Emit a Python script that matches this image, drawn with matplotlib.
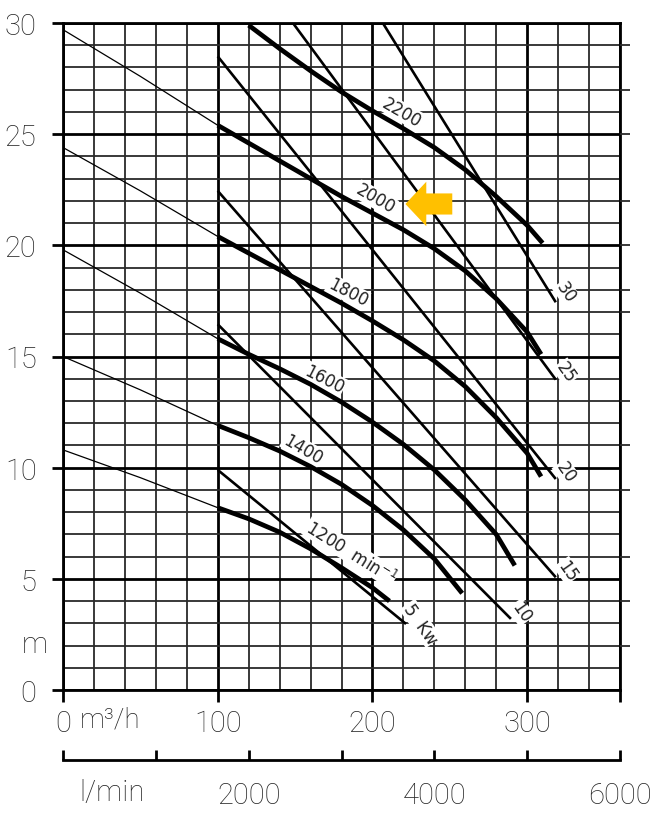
import matplotlib
matplotlib.use('Agg')
import matplotlib.pyplot as plt
import numpy as np

# pump curves: thin part from 0 to 100 m3/h, thick part from 100 m3/h on
speeds = ['2200', '2000', '1800', '1600', '1400', '1200']

q_low = [0, 50, 100]
h_low = {
    '2000': [29.7, 27.6, 25.4],
    '1800': [24.4, 22.45, 20.4],
    '1600': [19.8, 17.85, 15.8],
    '1400': [15.0, 13.5, 11.9],
    '1200': [10.8, 9.55, 8.2],
}

q_2200 = [120, 140, 160, 180, 200, 220, 240, 260, 280, 300, 310]
h_2200 = [29.9, 28.85, 27.85, 26.9, 26.05, 25.25, 24.4, 23.4, 22.2, 20.9, 20.1]
q_2000 = [100, 120, 140, 160, 180, 200, 220, 240, 260, 280, 300, 309]
h_2000 = [25.4, 24.6, 23.8, 23.0, 22.2, 21.45, 20.7, 19.85, 18.85, 17.6, 16.1, 15.1]
q_1800 = [100, 120, 140, 160, 180, 200, 220, 240, 260, 280, 300, 309]
h_1800 = [20.4, 19.65, 18.9, 18.15, 17.4, 16.6, 15.75, 14.8, 13.65, 12.25, 10.65, 9.6]
q_1600 = [100, 120, 140, 160, 180, 200, 220, 240, 260, 280, 292]
h_1600 = [15.8, 15.1, 14.45, 13.75, 12.95, 12.05, 11.05, 9.9, 8.55, 7.0, 5.6]
q_1400 = [100, 120, 140, 160, 180, 200, 220, 240, 258]
h_1400 = [11.9, 11.35, 10.75, 10.05, 9.25, 8.3, 7.2, 5.9, 4.35]
q_1200 = [100, 120, 140, 160, 180, 200, 211]
h_1200 = [8.2, 7.7, 7.1, 6.35, 5.5, 4.6, 4.0]

q_high = {'2200': q_2200, '2000': q_2000, '1800': q_1800,
          '1600': q_1600, '1400': q_1400, '1200': q_1200}
h_high = {'2200': h_2200, '2000': h_2000, '1800': h_1800,
          '1600': h_1600, '1400': h_1400, '1200': h_1200}

# curve labels
speed_text = ['2200', '2000', '1800', '1600', '1400', '1200  min$^{-1}$']
speed_lbl_q = [219, 202, 184, 169, 155, 186]
speed_lbl_h = [26.0, 22.1, 17.9, 14.0, 10.85, 6.2]
speed_lbl_rot = [-30, -30, -27, -27, -30, -32]

# power lines (kW), straight from start to end point
kw_text = ['5  Kw', '10', '15', '20', '25', '30']
kw_q0 = [100, 100, 100, 100, 148.6, 206.7]
kw_h0 = [9.9, 16.45, 22.45, 28.5, 30.0, 30.0]
kw_q1 = [221.7, 289.5, 318.5, 318.5, 318.5, 318.5]
kw_h1 = [2.97, 3.2, 5.07, 9.49, 13.96, 17.44]
kw_lbl_q = [231, 296, 326, 325, 325, 325]
kw_lbl_h = [3.0, 3.5, 5.37, 9.8, 14.3, 17.9]

# axes ticks
x_major = [0, 100, 200, 300, 360]
x_major_labels = ['0', '100', '200', '300', '']
y_major = [0, 5, 10, 15, 20, 25, 30]
y_right_ticks = [2, 4, 6, 9, 11, 13, 17, 18, 20, 22, 25, 27, 29]
lmin_ticks = [0, 1000, 2000, 3000, 4000, 5000, 6000]
lmin_labels = ['', '', '2000', '', '4000', '', '6000']

txt_col = '#262626'
axis_font = dict(family=['Roboto', 'DejaVu Sans'], weight='light')

W, H = 656, 820
fig = plt.figure(figsize=(W / 100, H / 100), dpi=100)
ax = fig.add_axes([63 / W, 1 - 691 / H, (620 - 63) / W, (691 - 24) / H])
ax.set_xlim(0, 360)
ax.set_ylim(0, 30)

# grid
ax.set_xticks(np.arange(0, 361, 20), minor=True)
ax.set_yticks(np.arange(0, 31, 1), minor=True)
ax.set_xticks(x_major)
ax.set_xticklabels(x_major_labels)
ax.set_yticks(y_major)
ax.set_yticklabels([str(v) for v in y_major])
ax.grid(which='minor', color='#2a2a2a', lw=1.3, zorder=0)
ax.grid(which='major', color='black', lw=2.0, zorder=0)
ax.tick_params(which='minor', length=0)
ax.tick_params(axis='x', which='major', length=8.5, width=2.0, pad=5,
               labelsize=21, labelcolor=txt_col)
ax.tick_params(axis='y', which='major', length=8, width=2.0, pad=11,
               labelsize=21, labelcolor=txt_col)
for lab in ax.get_xticklabels() + ax.get_yticklabels():
    lab.set(**axis_font)
for s in ax.spines.values():
    s.set_linewidth(2.0)

# short ticks sticking out on the right side
axr = ax.twinx()
axr.set_ylim(0, 30)
axr.set_yticks(y_right_ticks)
axr.set_yticklabels([])
axr.tick_params(axis='y', length=7, width=1.3, color='#2a2a2a')
for s in axr.spines.values():
    s.set_visible(False)

# pump curves
for sp in speeds:
    if sp in h_low:
        ax.plot(q_low, h_low[sp], color='black', lw=0.9, zorder=4)
    ax.plot(q_high[sp], h_high[sp], color='black', lw=3.4,
            solid_capstyle='butt', solid_joinstyle='round', zorder=4)

# power lines
for i in range(len(kw_text)):
    ax.plot([kw_q0[i], kw_q1[i]], [kw_h0[i], kw_h1[i]], color='black',
            lw=1.9, solid_capstyle='butt', zorder=4)
    ax.text(kw_lbl_q[i], kw_lbl_h[i], kw_text[i], rotation=-55,
            rotation_mode='anchor', ha='center', va='center', fontsize=12,
            color='#222222', zorder=3,
            bbox=dict(facecolor='white', edgecolor='none', pad=0.5))

for i in range(len(speed_text)):
    ax.text(speed_lbl_q[i], speed_lbl_h[i], speed_text[i],
            rotation=speed_lbl_rot[i], rotation_mode='anchor',
            ha='center', va='center', fontsize=12, color='#222222', zorder=3,
            bbox=dict(facecolor='white', edgecolor='none', pad=0.5))

# yellow arrow pointing at the 2000 curve
ax.arrow(251.6, 21.86, -30.3, 0, width=0.95, head_width=2.0, head_length=13.5,
         length_includes_head=True, color='#FFC000', lw=0, zorder=6)

fig.text(110 / W, 1 - 720 / H, 'm³/h', ha='center', va='center',
         fontsize=20, color=txt_col, **axis_font)
fig.text(35 / W, 1 - 645 / H, 'm', ha='center', va='center',
         fontsize=21, color=txt_col, **axis_font)

# l/min scale below
ax2 = fig.add_axes([63 / W, 1 - 761 / H, (620 - 63) / W, 0.0001])
ax2.set_xlim(0, 6000)
ax2.set_yticks([])
ax2.set_xticks(lmin_ticks)
ax2.set_xticklabels(lmin_labels)
for side in ['top', 'left', 'right']:
    ax2.spines[side].set_visible(False)
ax2.spines['bottom'].set_linewidth(2.0)
ax2.tick_params(axis='x', direction='in', length=7, width=2.0, pad=15,
                labelsize=21, labelcolor=txt_col)
for lab in ax2.get_xticklabels():
    lab.set(**axis_font)
fig.text(112 / W, 1 - 793 / H, 'l/min', ha='center', va='center',
         fontsize=21, color=txt_col, **axis_font)

fig.savefig('out.png', dpi=100)
